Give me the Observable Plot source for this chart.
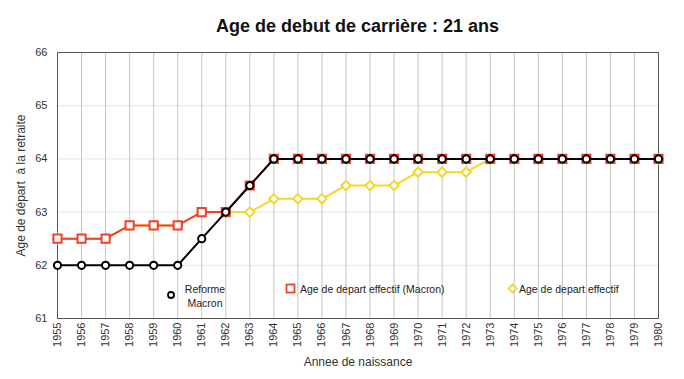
<!DOCTYPE html>
<html><head><meta charset="utf-8">
<script src="https://cdn.jsdelivr.net/npm/d3@7"></script>
<script src="https://cdn.jsdelivr.net/npm/@observablehq/plot@0.6"></script>
<style>
body{margin:0;background:#fff;font-family:"Liberation Sans",Arial,sans-serif;}
#wrap{position:relative;width:684px;height:379px;overflow:hidden;}
#title{position:absolute;left:57px;width:601px;top:16px;text-align:center;font-weight:bold;font-size:18px;color:#111;}
#chart{position:absolute;left:0;top:40px;}
.lg{position:absolute;font-size:10.5px;color:#222;line-height:14px;}
.lg svg{position:absolute;}
</style>
</head><body>
<div id="wrap">
  <div id="title">Age de debut de carrière : 21 ans</div>
  <div id="chart"></div>
  <div class="lg" style="left:165px;top:282px;">
    <svg width="14" height="14" style="left:0;top:6px"><circle cx="6" cy="7" r="3" fill="white" stroke="#000" stroke-width="1.8"/></svg>
    <div style="position:absolute;left:18px;top:0;text-align:center;width:44px;">Reforme<br>Macron</div>
  </div>
  <div class="lg" style="left:284px;top:282px;">
    <svg width="14" height="14" style="left:0;top:0"><rect x="2.5" y="2.5" width="8" height="8" fill="white" stroke="#ee4130" stroke-width="1.8"/></svg>
    <div style="position:absolute;left:16px;top:0;white-space:nowrap;">Age de depart effectif (Macron)</div>
  </div>
  <div class="lg" style="left:506px;top:282px;">
    <svg width="14" height="14" style="left:0;top:0"><path d="M6.5,2.5L10.5,6.5L6.5,10.5L2.5,6.5Z" fill="white" stroke="#f7d52a" stroke-width="1.8"/></svg>
    <div style="position:absolute;left:13px;top:0;white-space:nowrap;">Age de depart effectif</div>
  </div>
</div>
<script>
const years = [1955,1956,1957,1958,1959,1960,1961,1962,1963,1964,1965,1966,1967,1968,1969,1970,1971,1972,1973,1974,1975,1976,1977,1978,1979,1980];
const reformeMacron = [62,62,62,62,62,62,62.5,63,63.5,64,64,64,64,64,64,64,64,64,64,64,64,64,64,64,64,64];
const effectifMacron = [62.5,62.5,62.5,62.75,62.75,62.75,63,63,63.5,64,64,64,64,64,64,64,64,64,64,64,64,64,64,64,64,64];
const effectif = [62.5,62.5,62.5,62.75,62.75,62.75,63,63,63,63.25,63.25,63.25,63.5,63.5,63.5,63.75,63.75,63.75,64,64,64,64,64,64,64,64];
const yTicks = [61,62,63,64,65,66];
const seriesNames = ["Reforme Macron","Age de depart effectif (Macron)","Age de depart effectif"];

const RED = "#ee4130", YEL = "#f7d52a", BLK = "#000";
const rows = years.map((y,i)=>({year:y, reforme:reformeMacron[i], macron:effectifMacron[i], effectif:effectif[i]}));

const chart = Plot.plot({
  width:684, height:339,
  marginTop:12, marginBottom:61, marginLeft:57, marginRight:26,
  style:{fontFamily:"Liberation Sans, Arial, sans-serif", fontSize:"11px", color:"#333", background:"white"},
  x:{domain:[1955,1980]},
  y:{domain:[61,66]},
  marks:[
    Plot.gridY(yTicks,{stroke:"#e4e4e4", strokeOpacity:1}),
    Plot.gridX(years,{stroke:"#c4c4c4", strokeOpacity:1}),
    Plot.frame({stroke:"#555"}),
    Plot.axisY(yTicks,{tickSize:0, tickPadding:10, tickFormat:d=>String(d), label:null, fontSize:11}),
    Plot.axisY({ticks:[], tickSize:0, label:"Age de départ  à la retraite", labelAnchor:"center", labelArrow:"none", labelOffset:41, fontSize:12}),
    Plot.axisX(years,{tickSize:0, tickPadding:4, tickRotate:-90, tickFormat:d=>String(d), label:null, fontSize:11}),
    Plot.axisX({ticks:[], tickSize:0, label:"Annee de naissance", labelAnchor:"center", labelArrow:"none", labelOffset:47, fontSize:12}),
    Plot.line(rows,{x:"year", y:"effectif", stroke:YEL, strokeWidth:2}),
    Plot.dot(rows,{x:"year", y:"effectif", symbol:"diamond2", r:4.2, stroke:YEL, fill:"white", strokeWidth:2}),
    Plot.line(rows,{x:"year", y:"macron", stroke:RED, strokeWidth:2}),
    Plot.dot(rows,{x:"year", y:"macron", symbol:"square", r:4.6, stroke:RED, fill:"white", strokeWidth:2}),
    Plot.line(rows,{x:"year", y:"reforme", stroke:BLK, strokeWidth:2}),
    Plot.dot(rows,{x:"year", y:"reforme", symbol:"circle", r:3.6, stroke:BLK, fill:"white", strokeWidth:2})
  ]
});
document.getElementById("chart").appendChild(chart);
</script>
</body></html>
